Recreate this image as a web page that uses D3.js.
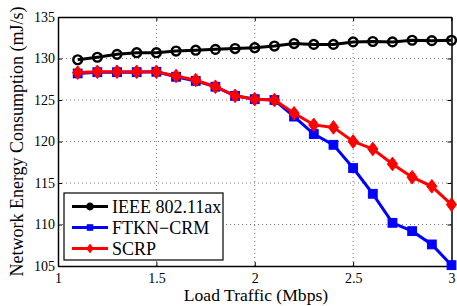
<!DOCTYPE html>
<html>
<head>
<meta charset="utf-8">
<script src="https://cdn.jsdelivr.net/npm/d3@7"></script>
<style>
  body { margin: 0; background: #fff; }
</style>
</head>
<body>
<div id="chart"></div>
<script>
var width = 457;
var height = 306;

var loads = [1.1, 1.2, 1.3, 1.4, 1.5, 1.6, 1.7, 1.8, 1.9, 2.0,
             2.1, 2.2, 2.3, 2.4, 2.5, 2.6, 2.7, 2.8, 2.9, 3.0];
var ieee = [129.85, 130.15, 130.5, 130.7, 130.7, 130.9, 131.0, 131.1, 131.2, 131.3,
            131.5, 131.8, 131.7, 131.7, 132.0, 132.05, 132.0, 132.2, 132.15, 132.2];
var ftkn = [128.2, 128.35, 128.35, 128.35, 128.4, 127.8, 127.3, 126.6, 125.5, 125.1,
            125.0, 123.0, 120.9, 119.6, 116.8, 113.7, 110.2, 109.2, 107.6, 105.1];
var scrp = [128.3, 128.4, 128.4, 128.4, 128.4, 127.9, 127.4, 126.6, 125.5, 125.1,
            125.0, 123.4, 122.0, 121.7, 120.0, 119.1, 117.3, 115.7, 114.6, 112.4];
var seriesNames = ["IEEE 802.11ax", "FTKN\u2212CRM", "SCRP"];
var xTicks = [1, 1.5, 2, 2.5, 3];
var yTicks = [105, 110, 115, 120, 125, 130, 135];

var serif = "'Liberation Serif', 'Times New Roman', Times, serif";
var margin = {left: 58, right: 5.5, top: 17, bottom: 40};

var svg = d3.select("#chart")
    .append("svg")
    .attr("width", width)
    .attr("height", height)
    .style("font-family", serif);

var x = d3.scaleLinear().domain([1, 3]).range([margin.left, width - margin.right]);
var y = d3.scaleLinear().domain([105, 135]).range([height - margin.bottom, margin.top]);

// dotted grid
var grid = svg.append("g")
    .attr("stroke", "#555")
    .attr("stroke-width", 0.8)
    .attr("stroke-dasharray", "1,3");
grid.selectAll("line.gx")
    .data(xTicks.slice(1, -1))
    .enter().append("line")
    .attr("x1", d => x(d)).attr("x2", d => x(d))
    .attr("y1", y(105)).attr("y2", y(135));
grid.selectAll("line.gy")
    .data(yTicks.slice(1, -1))
    .enter().append("line")
    .attr("x1", x(1)).attr("x2", x(3))
    .attr("y1", d => y(d)).attr("y2", d => y(d));

// axes with inward ticks, box on all four sides
svg.append("g")
    .attr("transform", "translate(0," + y(105) + ")")
    .call(d3.axisBottom(x).tickValues(xTicks).tickSizeInner(-4).tickSizeOuter(0).tickPadding(7)
        .tickFormat(d3.format("")));
svg.append("g")
    .attr("transform", "translate(" + x(1) + ",0)")
    .call(d3.axisLeft(y).tickValues(yTicks).tickSizeInner(-4).tickSizeOuter(0).tickPadding(3));
svg.append("g")
    .attr("transform", "translate(0," + y(135) + ")")
    .call(d3.axisTop(x).tickValues(xTicks).tickSizeInner(-4).tickSizeOuter(0).tickFormat(""));
svg.append("g")
    .attr("transform", "translate(" + x(3) + ",0)")
    .call(d3.axisRight(y).tickValues(yTicks).tickSizeInner(-4).tickSizeOuter(0).tickFormat(""));

svg.selectAll(".domain").attr("stroke", "#000").attr("stroke-width", 1.5);
svg.selectAll(".tick line").attr("stroke", "#000");
svg.selectAll("g").attr("font-family", null);
svg.selectAll(".tick text")
    .style("font-family", serif)
    .style("font-size", "14px")
    .attr("fill", "#000");

// axis titles
svg.append("text")
    .attr("x", 256)
    .attr("y", 301)
    .attr("text-anchor", "middle")
    .style("font-family", serif)
    .style("font-size", "17.6px")
    .text("Load Traffic (Mbps)");
svg.append("text")
    .attr("transform", "translate(22.5,141.5) rotate(-90)")
    .attr("text-anchor", "middle")
    .style("font-family", serif)
    .style("font-size", "18px")
    .text("Network Energy Consumption (mJ/s)");

var line = d3.line().x((d, i) => x(loads[i])).y(d => y(d));

var series = [
    {name: seriesNames[0], values: ieee, color: "#000", marker: "circle"},
    {name: seriesNames[1], values: ftkn, color: "#0000ff", marker: "square"},
    {name: seriesNames[2], values: scrp, color: "#ff0000", marker: "diamond"}
];

function drawMarker(g, type, color, size) {
    if (type === "circle") {
        g.append("circle").attr("r", size * 0.55)
            .attr("fill", "none").attr("stroke", color).attr("stroke-width", 2.4);
    } else if (type === "square") {
        g.append("rect").attr("x", -size * 0.55).attr("y", -size * 0.55)
            .attr("width", size * 1.1).attr("height", size * 1.1)
            .attr("fill", color).attr("stroke", color).attr("stroke-width", 1);
    } else {
        var s = size * 0.85;
        g.append("path").attr("d", "M0," + (-s) + "L" + (s * 0.75) + ",0L0," + s + "L" + (-s * 0.75) + ",0Z")
            .attr("fill", color).attr("stroke", color).attr("stroke-width", 1);
    }
}

series.forEach(function (s) {
    svg.append("path")
        .datum(s.values)
        .attr("d", line)
        .attr("fill", "none")
        .attr("stroke", s.color)
        .attr("stroke-width", 3);
    s.values.forEach(function (v, i) {
        var g = svg.append("g").attr("transform", "translate(" + x(loads[i]) + "," + y(v) + ")");
        drawMarker(g, s.marker, s.color, 8);
    });
});

// legend
var lg = svg.append("g");
lg.append("rect")
    .attr("x", 64).attr("y", 193)
    .attr("width", 159).attr("height", 67)
    .attr("fill", "#fff").attr("stroke", "#000").attr("stroke-width", 1.2);
series.forEach(function (s, i) {
    var yy = 206.5 + i * 21;
    lg.append("line")
        .attr("x1", 72).attr("x2", 108)
        .attr("y1", yy).attr("y2", yy)
        .attr("stroke", s.color).attr("stroke-width", 3);
    var g = lg.append("g").attr("transform", "translate(90," + yy + ")");
    drawMarker(g, s.marker, s.color, 5);
    lg.append("text")
        .attr("x", 112).attr("y", yy + 6)
        .style("font-family", serif)
        .style("font-size", "18px")
        .text(s.name);
});
</script>
</body>
</html>
